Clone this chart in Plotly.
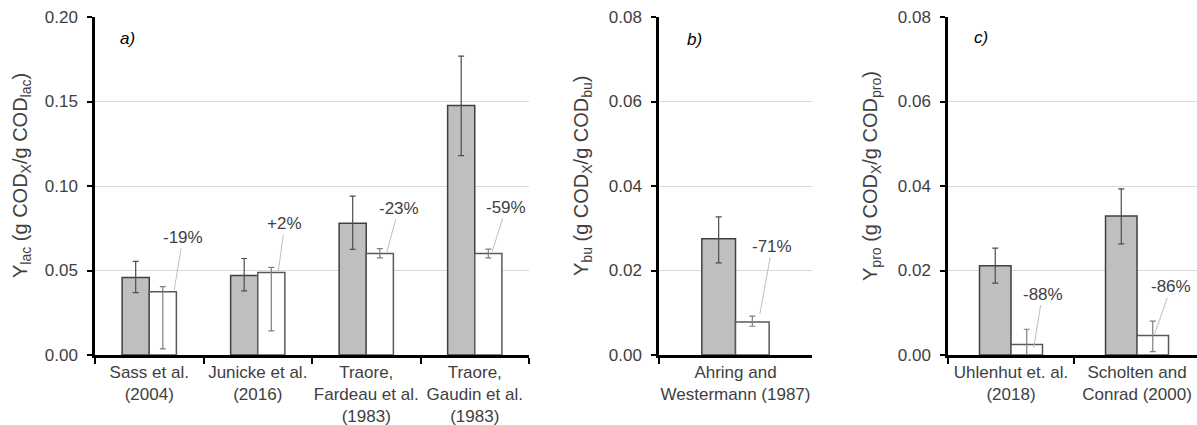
import plotly.graph_objects as go

# ---------------- data ----------------
cats_a = ["Sass et al.<br>(2004)", "Junicke et al.<br>(2016)",
          "Traore,<br>Fardeau et al.<br>(1983)", "Traore,<br>Gaudin et al.<br>(1983)"]
grey_a = [0.0458, 0.0470, 0.0780, 0.1476]
grey_a_up = [0.0096, 0.0101, 0.0160, 0.0292]
grey_a_dn = [0.0089, 0.0090, 0.0155, 0.0296]
white_a = [0.0375, 0.0488, 0.0600, 0.0600]
white_a_up = [0.0030, 0.0030, 0.0030, 0.0027]
white_a_dn = [0.0339, 0.0345, 0.0025, 0.0025]
pct_a = ["-19%", "+2%", "-23%", "-59%"]

cats_b = ["Ahring and<br>Westermann (1987)"]
grey_b = [0.0275]
grey_b_up = [0.0052]
grey_b_dn = [0.0057]
white_b = [0.0078]
white_b_up = [0.0014]
white_b_dn = [0.0010]
pct_b = ["-71%"]

cats_c = ["Uhlenhut et. al.<br>(2018)", "Scholten and<br>Conrad (2000)"]
grey_c = [0.0211, 0.0329]
grey_c_up = [0.0042, 0.0064]
grey_c_dn = [0.0041, 0.0066]
white_c = [0.0025, 0.0046]
white_c_up = [0.0036, 0.0034]
white_c_dn = [0.0025, 0.0038]
pct_c = ["-88%", "-86%"]

# ---------------- styles ----------------
FONT = "Arial, Liberation Sans, sans-serif"
GREY = "#bfbfbf"
EDGE = "#404040"
fig = go.Figure()


def add_panel(cats, g, gu, gd, w, wu, wd, xa, ya, bw):
    fig.add_trace(go.Bar(
        x=cats, y=g, width=bw, offset=-bw, xaxis=xa, yaxis=ya,
        marker=dict(color=GREY, line=dict(color=EDGE, width=1.5)),
        error_y=dict(type="data", symmetric=False, array=gu, arrayminus=gd,
                     color="#4d4d4d", thickness=1.2, width=3),
        showlegend=False))
    fig.add_trace(go.Bar(
        x=cats, y=w, width=bw, offset=0, xaxis=xa, yaxis=ya,
        marker=dict(color="white", line=dict(color="#595959", width=1.5)),
        error_y=dict(type="data", symmetric=False, array=wu, arrayminus=wd,
                     color="#7f7f7f", thickness=1.2, width=3),
        showlegend=False))


add_panel(cats_a, grey_a, grey_a_up, grey_a_dn, white_a, white_a_up, white_a_dn, "x", "y", 0.25)
add_panel(cats_b, grey_b, grey_b_up, grey_b_dn, white_b, white_b_up, white_b_dn, "x2", "y2", 0.22)
add_panel(cats_c, grey_c, grey_c_up, grey_c_dn, white_c, white_c_up, white_c_dn, "x3", "y3", 0.25)

# leader-line annotations: (line end dx, line end dy above bar, text dx, text y)
ann_a = [(0.23, 0.001, 0.31, 0.0696), (0.19, 0.001, 0.25, 0.0780),
         (0.19, 0.001, 0.30, 0.0869), (0.16, 0.001, 0.29, 0.0875)]
ann_b = [(0.16, 0.002, 0.24, 0.0258)]
ann_c = [(0.18, -0.0008, 0.25, 0.0144), (0.14, 0.0004, 0.27, 0.0161)]

annotations = []
for vals, pcts, geo, xr, yr in [(white_a, pct_a, ann_a, "x", "y"),
                                (white_b, pct_b, ann_b, "x2", "y2"),
                                (white_c, pct_c, ann_c, "x3", "y3")]:
    for i, (v, p, (ex, ey, tx, ty)) in enumerate(zip(vals, pcts, geo)):
        annotations.append(dict(
            x=i + ex, y=v + ey, xref=xr, yref=yr,
            ax=i + tx, ay=ty, axref=xr, ayref=yr,
            text=p, showarrow=True, arrowhead=0, arrowwidth=1,
            arrowcolor="#bfbfbf", standoff=0,
            font=dict(family=FONT, size=17, color="#404040")))

# panel letters
for txt, xr, yr, xv, yv in [("a)", "x", "y", -0.2, 0.187),
                            ("b)", "x2", "y2", -0.27, 0.0747),
                            ("c)", "x3", "y3", -0.24, 0.0752)]:
    annotations.append(dict(x=xv, y=yv, xref=xr, yref=yr, text="<i>" + txt + "</i>",
                            showarrow=False, font=dict(family=FONT, size=17, color="black")))

# y-axis titles
Y0 = 1 - 355 / 425
Y1 = 1 - 17 / 425
for txt, xp in [("Y<sub>lac</sub> (g COD<sub>X</sub>/g COD<sub>lac</sub>)", 22),
                ("Y<sub>bu</sub> (g COD<sub>X</sub>/g COD<sub>bu</sub>)", 583),
                ("Y<sub>pro</sub> (g COD<sub>X</sub>/g COD<sub>pro</sub>)", 872)]:
    annotations.append(dict(x=xp / 1197, y=1 - 176 / 425, xref="paper", yref="paper",
                            text=txt, textangle=-90, showarrow=False,
                            xanchor="center", yanchor="middle",
                            font=dict(family=FONT, size=20, color="#404040")))

xcommon = dict(type="category", showline=True, linecolor="black", linewidth=2.5,
               ticks="outside", tickson="boundaries", ticklen=6, tickwidth=2,
               tickcolor="black", showgrid=False, tickangle=0, automargin=False,
               tickfont=dict(family=FONT, size=17, color="#404040"))
ycommon = dict(showline=True, linecolor="black", linewidth=2.5, ticks="outside",
               ticklen=5, tickwidth=2, tickcolor="black", showgrid=True,
               gridcolor="#d9d9d9", gridwidth=1, zeroline=False, tickformat=".2f",
               automargin=False, ticklabelstandoff=6,
               tickfont=dict(family=FONT, size=17, color="#404040"))

fig.update_layout(
    width=1197, height=425, margin=dict(l=0, r=0, t=0, b=0, autoexpand=False),
    plot_bgcolor="white", paper_bgcolor="white", barmode="overlay",
    showlegend=False, annotations=annotations,
    xaxis=dict(xcommon, domain=[95 / 1197, 529 / 1197], range=[-0.5, 3.5], anchor="y"),
    yaxis=dict(ycommon, domain=[Y0, Y1], range=[0, 0.2], dtick=0.05, anchor="x"),
    xaxis2=dict(xcommon, domain=[659 / 1197, 812 / 1197], range=[-0.5, 0.5], anchor="y2"),
    yaxis2=dict(ycommon, domain=[Y0, Y1], range=[0, 0.08], dtick=0.02, anchor="x2"),
    xaxis3=dict(xcommon, domain=[948 / 1197, 1.0], range=[-0.5, 1.476], anchor="y3"),
    yaxis3=dict(ycommon, domain=[Y0, Y1], range=[0, 0.08], dtick=0.02, anchor="x3"),
)

fig.write_html("out.html", config={"displayModeBar": False},
               post_script="document.body.style.margin='0';document.body.style.overflow='hidden';")
